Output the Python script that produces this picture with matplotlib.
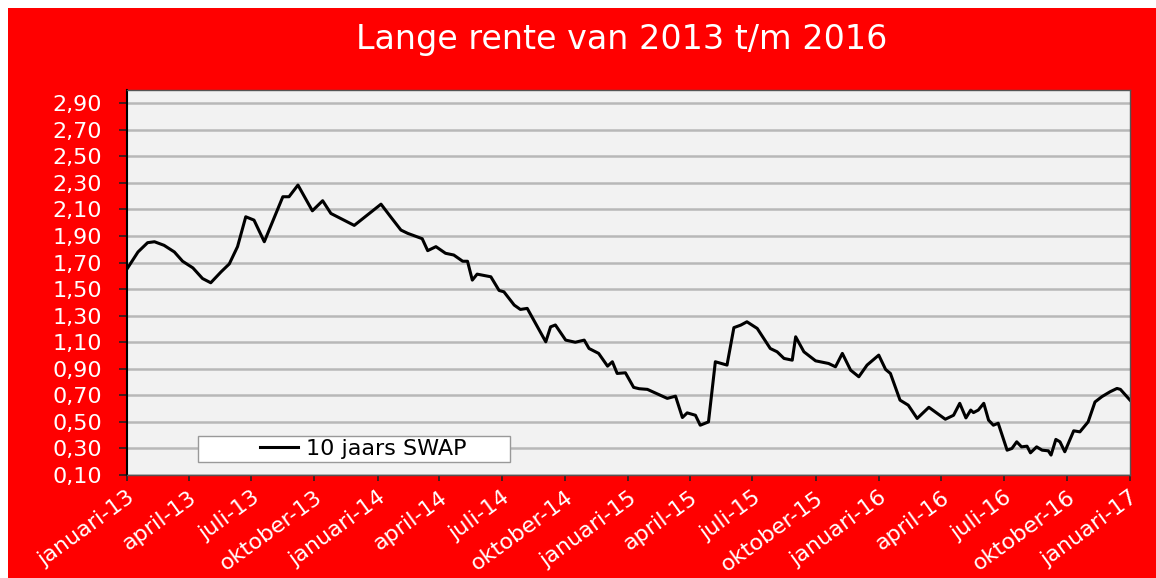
import matplotlib
matplotlib.use('Agg')
import matplotlib.pyplot as plt
import pandas as pd
from matplotlib.patches import Rectangle

# ---- data ----
start_date = '2013-01-01'
day_offsets = [1, 16, 30, 40, 54, 69, 81, 96, 110, 122, 137, 149, 161, 173, 185, 200,
               214, 227, 236, 249, 270, 285, 297, 331, 370, 384, 399, 409, 430, 438,
               450, 464, 476, 489, 496, 503, 510, 530, 542, 549, 564, 573, 583, 610,
               617, 624, 639, 653, 666, 673, 687, 700, 707, 714, 726, 738, 746, 758,
               787, 799, 809, 816, 828, 835, 847, 857, 874, 884, 894, 903, 918, 937,
               947, 957, 969, 974, 986, 1003, 1022, 1032, 1042, 1054, 1066, 1078, 1095,
               1105, 1112, 1126, 1138, 1151, 1168, 1192, 1204, 1213, 1222, 1229, 1233,
               1240, 1248, 1255, 1262, 1269, 1282, 1289, 1296, 1303, 1311, 1316, 1325,
               1333, 1342, 1346, 1353, 1359, 1366, 1379, 1388, 1400, 1410, 1420, 1432,
               1442, 1447, 1461]
swap_10y = [1.66, 1.78, 1.85, 1.857, 1.83, 1.78, 1.71, 1.66, 1.58, 1.548, 1.63, 1.69, 1.82,
            2.045, 2.02, 1.857, 2.033, 2.196, 2.196, 2.284, 2.09, 2.166, 2.07, 1.98, 2.14,
            2.045, 1.945, 1.92, 1.88, 1.79, 1.82, 1.77, 1.757, 1.71, 1.71, 1.568, 1.613,
            1.593, 1.49, 1.48, 1.38, 1.347, 1.355, 1.103, 1.216, 1.23, 1.116, 1.10, 1.116,
            1.053, 1.016, 0.92, 0.953, 0.865, 0.87, 0.76, 0.75, 0.745, 0.677, 0.694, 0.533,
            0.568, 0.55, 0.475, 0.50, 0.953, 0.928, 1.21, 1.229, 1.254, 1.204, 1.053, 1.028,
            0.978, 0.965, 1.141, 1.028, 0.96, 0.94, 0.915, 1.016, 0.89, 0.84, 0.928, 1.003,
            0.895, 0.865, 0.664, 0.626, 0.526, 0.61, 0.52, 0.55, 0.64, 0.53, 0.589, 0.57,
            0.589, 0.64, 0.513, 0.475, 0.49, 0.287, 0.30, 0.35, 0.312, 0.317, 0.267, 0.312,
            0.287, 0.282, 0.25, 0.368, 0.35, 0.275, 0.433, 0.425, 0.50, 0.65, 0.69, 0.727,
            0.752, 0.745, 0.664]
quarter_labels = ['januari-13', 'april-13', 'juli-13', 'oktober-13',
                  'januari-14', 'april-14', 'juli-14', 'oktober-14',
                  'januari-15', 'april-15', 'juli-15', 'oktober-15',
                  'januari-16', 'april-16', 'juli-16', 'oktober-16',
                  'januari-17']
y_ticks = [0.10, 0.30, 0.50, 0.70, 0.90, 1.10, 1.30, 1.50, 1.70, 1.90,
           2.10, 2.30, 2.50, 2.70, 2.90]
title = 'Lange rente van 2013 t/m 2016'
series_name = '10 jaars SWAP'

dates = pd.Timestamp(start_date) + pd.to_timedelta(day_offsets, unit='D')
quarter_dates = pd.date_range('2013-01-01', '2017-01-01', freq='QS')

W, H = 1156, 578
fig = plt.figure(figsize=(W / 100, H / 100), dpi=100)
fig.patch.set_facecolor('white')
fig.add_artist(Rectangle((8 / W, 0), 1 - 8 / W, 1 - 8 / H, transform=fig.transFigure,
                         facecolor='#FF0000', edgecolor='none', zorder=-10))

ax = fig.add_axes([127 / W, 1 - 475 / H, (1130 - 127) / W, (475 - 90) / H])
ax.set_facecolor('#F2F2F2')
ax.plot(dates, swap_10y, color='black', lw=2.2, label=series_name,
        solid_joinstyle='round')
ax.set_ylim(0.1, 3.0)
ax.set_xlim(quarter_dates[0], quarter_dates[-1])

ax.set_yticks(y_ticks)
ax.set_yticklabels([f'{v:.2f}'.replace('.', ',') for v in y_ticks])
ax.yaxis.grid(True, color='#B8B8B8', lw=1.8)
ax.set_axisbelow(True)

ax.set_xticks(quarter_dates)
ax.set_xticklabels(quarter_labels, rotation=36, ha='right', rotation_mode='anchor')

ax.tick_params(axis='y', colors='#222222', labelcolor='white', labelsize=16,
               length=6, width=1.2, pad=12)
ax.tick_params(axis='x', colors='#222222', labelcolor='white', labelsize=16,
               length=4, width=1.2, pad=5)

for side in ['top', 'right', 'bottom']:
    ax.spines[side].set_color('#555555')
    ax.spines[side].set_linewidth(1.0)
ax.spines['left'].set_color('black')
ax.spines['left'].set_linewidth(1.5)

# legend box
x0, x1 = (198 - 127) / 1003, (510 - 127) / 1003
y0, y1 = (475 - 462) / 385, (475 - 436) / 385
ax.add_patch(Rectangle((x0, y0), x1 - x0, y1 - y0, transform=ax.transAxes,
                       facecolor='white', edgecolor='#999999', lw=1.0, zorder=4))
leg = ax.legend(loc='center', bbox_to_anchor=((x0 + x1) / 2 + 0.009, (y0 + y1) / 2),
                fontsize=16, frameon=False, handlelength=1.7, handletextpad=0.35,
                borderpad=0, borderaxespad=0)
leg.set_zorder(5)

fig.text(622 / W, 1 - 40 / H, title, ha='center', va='center', color='white',
         fontsize=24)

fig.savefig('out.png', dpi=100, facecolor=fig.get_facecolor())
